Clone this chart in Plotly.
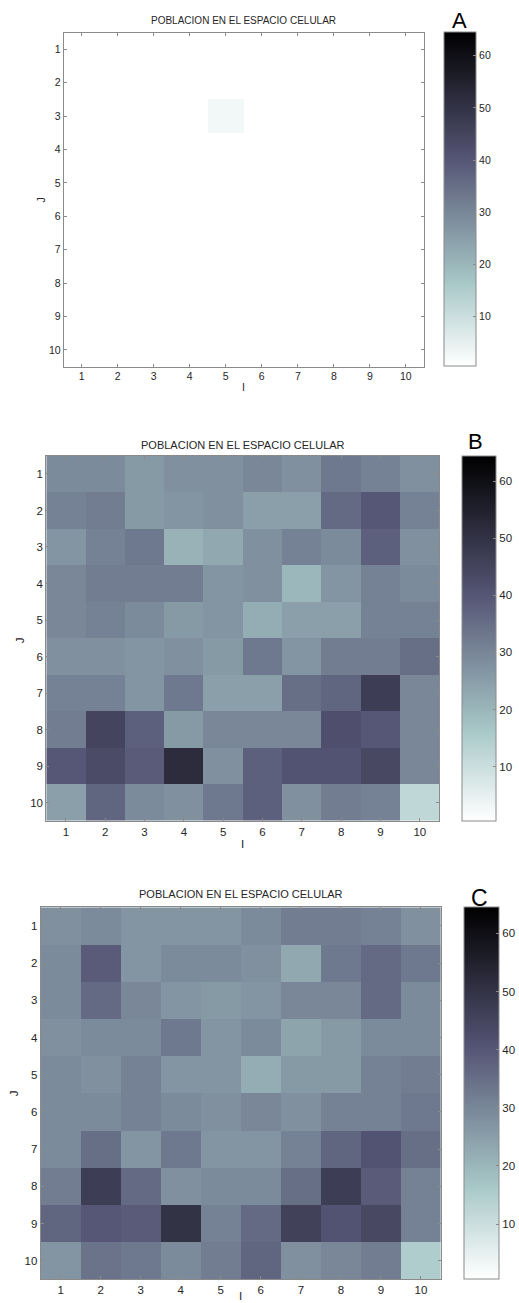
import numpy as np
import plotly.graph_objects as go

W, H = 519, 1303

I_LABELS = [1, 2, 3, 4, 5, 6, 7, 8, 9, 10]
J_LABELS = [1, 2, 3, 4, 5, 6, 7, 8, 9, 10]
CBAR_TICKS = [10, 20, 30, 40, 50, 60]
TITLE = "POBLACION EN EL ESPACIO CELULAR"
PANEL_LETTERS = ["A", "B", "C"]

# rows = J (1..10), columns = I (1..10)
POP_A = [
    [0, 0, 0, 0, 0, 0, 0, 0, 0, 0],
    [0, 0, 0, 0, 0, 0, 0, 0, 0, 0],
    [0, 0, 0, 0, 3, 0, 0, 0, 0, 0],
    [0, 0, 0, 0, 0, 0, 0, 0, 0, 0],
    [0, 0, 0, 0, 0, 0, 0, 0, 0, 0],
    [0, 0, 0, 0, 0, 0, 0, 0, 0, 0],
    [0, 0, 0, 0, 0, 0, 0, 0, 0, 0],
    [0, 0, 0, 0, 0, 0, 0, 0, 0, 0],
    [0, 0, 0, 0, 0, 0, 0, 0, 0, 0],
    [0, 0, 0, 0, 0, 0, 0, 0, 0, 0],
]

POP_B = [
    [29, 29, 26, 28, 28, 30, 28, 33, 31, 28],
    [31, 32, 26, 27, 28, 25, 25, 36, 40, 31],
    [27, 31, 33, 21, 23, 28, 31, 29, 38, 28],
    [30, 32, 32, 32, 27, 28, 20, 27, 31, 29],
    [30, 31, 29, 26, 27, 22, 25, 25, 31, 31],
    [28, 28, 27, 28, 26, 33, 27, 32, 32, 35],
    [31, 31, 27, 33, 25, 25, 35, 37, 47, 30],
    [32, 45, 38, 26, 30, 30, 30, 42, 40, 30],
    [40, 43, 39, 52, 28, 38, 41, 41, 44, 30],
    [25, 37, 29, 28, 33, 38, 28, 32, 31, 12],
]

POP_C = [
    [28, 29, 27, 27, 27, 29, 32, 32, 31, 28],
    [29, 39, 27, 29, 29, 28, 23, 33, 36, 33],
    [29, 36, 30, 27, 26, 27, 30, 30, 36, 29],
    [28, 29, 29, 33, 27, 29, 24, 26, 29, 29],
    [29, 28, 31, 27, 27, 22, 26, 26, 31, 32],
    [29, 29, 31, 29, 28, 30, 28, 31, 31, 33],
    [29, 35, 27, 33, 27, 27, 31, 37, 41, 35],
    [32, 47, 36, 28, 29, 29, 35, 47, 39, 31],
    [37, 40, 39, 50, 31, 36, 46, 41, 44, 31],
    [27, 34, 33, 29, 32, 37, 28, 30, 32, 15],
]

ZMIN, ZMAX = 0.5, 64.5


def bone(x):
    r_hot = min(1.0, x * 8 / 3)
    g_hot = min(1.0, max(0.0, (x - 0.375) * 8 / 3))
    b_hot = max(0.0, (x - 0.75) * 4)
    r = (7 * x + b_hot) / 8
    g = (7 * x + g_hot) / 8
    b = (7 * x + r_hot) / 8
    return "rgb(%d,%d,%d)" % (round(r * 255), round(g * 255), round(b * 255))


# reversed MATLAB "bone" colormap (white -> black)
COLORSCALE = [[p, bone(1 - p)] for p in np.linspace(0, 1, 65)]

FONT = "Liberation Sans, Arial, sans-serif"
AXIS_GRAY = "#8a8a8a"
TEXT = "#262626"


def px(x):
    return x / W


def py(y):
    return 1 - y / H


# layout geometry (pixels): plot box, colorbar box, text positions, font sizes
panels = [
    dict(data=POP_A, box=(64.3, 428, 32.5, 366.7), cb=(448.3, 481, 32.3, 366.7),
         title=(246, 21, 10), letter=(464, 21, 22), jlab=(41, 200), ilab=(246, 387), fs=10.5),
    dict(data=POP_B, box=(46.7, 443.7, 455.7, 820.8), cb=(466.7, 502, 455.7, 820.8),
         title=(245.5, 445, 11), letter=(480, 441, 22), jlab=(20.5, 640), ilab=(245, 843.5), fs=11.5),
    dict(data=POP_C, box=(41, 445.3, 907.3, 1279.3), cb=(468.3, 504, 907.3, 1279.5),
         title=(243.5, 894, 11), letter=(484, 897.5, 23), jlab=(14.5, 1093), ilab=(243, 1296), fs=11.5),
]

fig = go.Figure()
layout = dict(
    width=W, height=H,
    margin=dict(l=0, r=0, t=0, b=0),
    paper_bgcolor="white", plot_bgcolor="white",
    showlegend=False,
    font=dict(family=FONT, color=TEXT),
    annotations=[],
)

for k, p in enumerate(panels):
    n = "" if k == 0 else str(k + 1)
    x0, x1, y0, y1 = p["box"]
    cx0, cx1, cy0, cy1 = p["cb"]
    fs = p["fs"]
    fig.add_trace(go.Heatmap(
        z=p["data"], x=I_LABELS, y=J_LABELS,
        coloraxis="coloraxis" + n,
        xaxis="x" + n, yaxis="y" + n,
        hoverongaps=False,
    ))
    axcommon = dict(
        ticks="inside", ticklen=3, tickwidth=1, tickcolor=AXIS_GRAY,
        showline=True, linecolor=AXIS_GRAY, linewidth=1, mirror="ticks",
        showgrid=False, zeroline=False,
        tickfont=dict(family=FONT, size=fs, color=TEXT),
        tickmode="array", fixedrange=True,
    )
    layout["xaxis" + n] = dict(axcommon, domain=[px(x0), px(x1)], range=[0.5, 10.5],
                               tickvals=I_LABELS, anchor="y" + n)
    layout["yaxis" + n] = dict(axcommon, domain=[py(y1), py(y0)], range=[10.5, 0.5],
                               tickvals=J_LABELS, anchor="x" + n)
    layout["coloraxis" + n] = dict(
        colorscale=COLORSCALE, cmin=ZMIN, cmax=ZMAX,
        colorbar=dict(
            x=px(cx0), xanchor="left", xpad=0,
            y=py(cy0), yanchor="top", ypad=0,
            lenmode="pixels", len=cy1 - cy0,
            thicknessmode="pixels", thickness=cx1 - cx0 - 1,
            outlinecolor=AXIS_GRAY, outlinewidth=1,
            tickmode="array", tickvals=CBAR_TICKS,
            ticks="inside", ticklen=3, tickcolor=AXIS_GRAY,
            tickfont=dict(family=FONT, size=fs, color=TEXT),
        ),
    )
    tx, ty, tfs = p["title"]
    layout["annotations"].append(dict(
        text=TITLE, x=px(tx), y=py(ty), xref="paper", yref="paper",
        xanchor="center", yanchor="middle", showarrow=False,
        font=dict(family=FONT, size=tfs, color=TEXT)))
    lx, ly, lfs = p["letter"]
    layout["annotations"].append(dict(
        text=PANEL_LETTERS[k], x=px(lx), y=py(ly), xref="paper", yref="paper",
        xanchor="center", yanchor="middle", showarrow=False,
        font=dict(family=FONT, size=lfs, color="black")))
    jx, jy = p["jlab"]
    layout["annotations"].append(dict(
        text="J", x=px(jx), y=py(jy), xref="paper", yref="paper", textangle=-90,
        xanchor="center", yanchor="middle", showarrow=False,
        font=dict(family=FONT, size=fs, color=TEXT)))
    ix, iy = p["ilab"]
    layout["annotations"].append(dict(
        text="I", x=px(ix), y=py(iy), xref="paper", yref="paper",
        xanchor="center", yanchor="middle", showarrow=False,
        font=dict(family=FONT, size=fs, color=TEXT)))

fig.update_layout(**layout)
fig.write_html("out.html")
